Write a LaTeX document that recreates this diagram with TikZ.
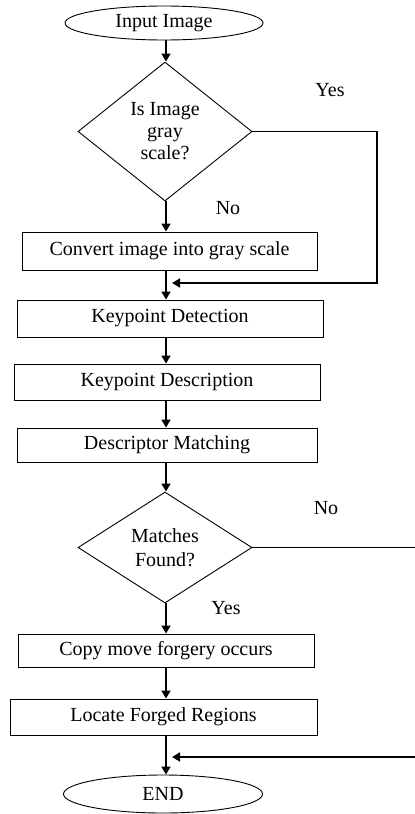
\documentclass[tikz,border=0pt]{standalone}
\usepackage{fontspec}
\setmainfont{Liberation Serif}
\usetikzlibrary{shapes.geometric, arrows.meta}

\begin{document}
\begin{tikzpicture}[x=1pt, y=-1pt,
    font=\fontsize{20}{22}\selectfont,
    box/.style={draw, line width=0.9pt, inner sep=0pt, minimum height=36pt},
    decision/.style={draw, diamond, line width=0.9pt, inner sep=0pt, align=center},
    terminal/.style={draw, ellipse, line width=0.9pt, inner sep=0pt},
    flow/.style={line width=1.6pt, -{Triangle[length=8pt,width=9pt]}}]
    \useasboundingbox (0,0) rectangle (415,814);
    \clip (0,0) rectangle (415,814);
    \coordinate (ax) at (166,0);

    \node[terminal, minimum width=198pt, minimum height=34pt] (in) at (164,23) {Input Image};
    \node[decision, minimum width=174pt, minimum height=139pt] (gray) at (165,131.5) {Is Image\\gray\\scale?};
    \node[box, minimum width=295pt, minimum height=38pt] (cvt) at (169.5,251) {Convert image into gray scale};
    \node[box, minimum width=306pt, minimum height=37pt] (kpd) at (170,318.5) {Keypoint Detection};
    \node[box, minimum width=306pt] (kps) at (167,382) {Keypoint Description};
    \node[box, minimum width=300pt, minimum height=34pt] (dm) at (167,445) {Descriptor Matching};
    \node[decision, minimum width=174pt, minimum height=111pt,
        font=\fontsize{20}{24}\selectfont] (found) at (165,547.5) {Matches\\Found?};
    \node[box, minimum width=296pt, minimum height=33pt] (cmf) at (166,650.5) {Copy move forgery occurs};
    \node[box, minimum width=307pt] (loc) at (163.5,717) {Locate Forged Regions};
    \node[terminal, minimum width=199pt, minimum height=38pt] (end) at (163,794) {END};

    % labels
    \node (yes1) at (330,90) {Yes};
    \node (no1) at (228,208) {No};
    \node (no2) at (326,508) {No};
    \node (yes2) at (226,608) {Yes};

    % main flow
    \foreach \a/\b in {in/gray, gray/cvt, cvt/kpd, kpd/kps, kps/dm, dm/found, found/cmf, cmf/loc, loc/end}
        \draw[flow] (\a.south -| ax) -- (\b.north -| ax);

    % side branches
    \coordinate (j1) at (172,283);
    \coordinate (j2) at (172,757);
    \draw[flow] (gray.east) -| (377,283) -- (j1);
    \draw[flow] (found.east) -| (430,757) -- (j2);
\end{tikzpicture}
\end{document}
